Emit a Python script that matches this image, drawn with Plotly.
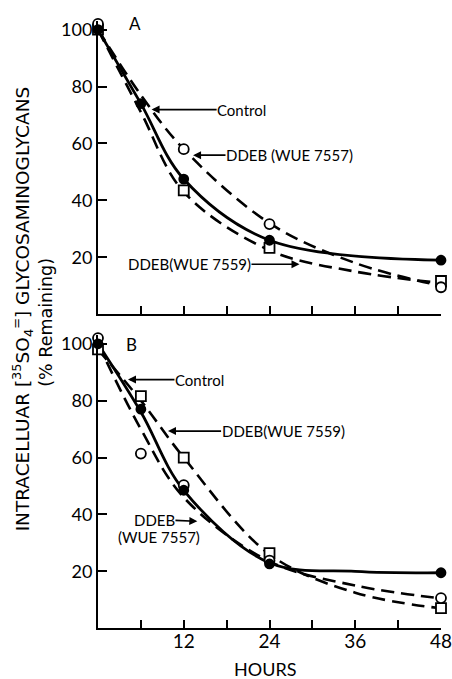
import plotly.graph_objects as go

# ---------------- data ----------------
# Panel A observed points
hours_ctrl_a = [0, 6, 12, 24, 48]
ctrl_a = [100, 74, 47.5, 26, 19]
hours_w7557_a = [0, 12, 24, 48]
w7557_a = [102, 58, 31.7, 9.5]
hours_w7559_a = [0, 12, 24, 48]
w7559_a = [100, 43.5, 23.3, 11.7]

# Panel A fitted curves
curve_hours_ctrl_a = [0, 6, 12, 24, 48]
curve_ctrl_a = [100, 74, 47.5, 26, 19]
curve_hours_w7557_a = [0, 6, 12, 24, 36, 48]
curve_w7557_a = [100, 77, 58, 32, 18, 10]
curve_hours_w7559_a = [0, 6, 12, 24, 36, 48]
curve_w7559_a = [100, 71, 43, 22.5, 15, 11]

# Panel B observed points
hours_b = [0, 6, 12, 24, 48]
ctrl_b = [100, 77, 48.5, 22.6, 19.5]
w7557_b = [102, 61.4, 50.3, 23.8, 10.6]
w7559_b = [98, 81.6, 60, 26.4, 7.1]

# Panel B fitted curves
curve_hours_ctrl_b = [0, 6, 12, 24, 36, 48]
curve_ctrl_b = [100, 76, 48.5, 23, 20, 19.5]
curve_hours_w7557_b = [0, 6, 12, 24, 36, 48]
curve_w7557_b = [100, 70, 46, 23.5, 15, 10.5]
curve_hours_w7559_b = [0, 6, 12, 24, 36, 48]
curve_w7559_b = [98, 80, 60, 26, 12.5, 7]

x_tickvals = [6, 12, 18, 24, 30, 36, 42, 48]
x_ticktext = ["", "12", "", "24", "", "36", "", "48"]
y_tickvals = [20, 40, 60, 80, 100]

FONT = "Lato"
TITLE_FONT = "DejaVu Sans"
BLACK = "black"

fig = go.Figure()


def curve(x, y, dashed, xa, ya):
    fig.add_trace(go.Scatter(
        x=x, y=y, mode="lines", line_shape="spline",
        line=dict(color=BLACK, width=2.8 if not dashed else 2.6,
                  dash="13px,7px" if dashed else "solid"),
        xaxis=xa, yaxis=ya, showlegend=False, hoverinfo="skip", cliponaxis=False))


def pts(x, y, symbol, filled, xa, ya, size=9):
    fig.add_trace(go.Scatter(
        x=x, y=y, mode="markers",
        marker=dict(symbol=symbol, size=size, color=BLACK if filled else "white",
                    line=dict(color=BLACK, width=1.8)),
        xaxis=xa, yaxis=ya, showlegend=False, cliponaxis=False))


# Panel A
curve(curve_hours_ctrl_a, curve_ctrl_a, False, "x", "y")
curve(curve_hours_w7557_a, curve_w7557_a, True, "x", "y")
curve(curve_hours_w7559_a, curve_w7559_a, True, "x", "y")
pts(hours_w7559_a, w7559_a, "square", False, "x", "y", 10)
pts(hours_w7557_a, w7557_a, "circle", False, "x", "y", 10)
pts(hours_ctrl_a, ctrl_a, "circle", True, "x", "y", 9)

# Panel B
curve(curve_hours_ctrl_b, curve_ctrl_b, False, "x2", "y2")
curve(curve_hours_w7557_b, curve_w7557_b, True, "x2", "y2")
curve(curve_hours_w7559_b, curve_w7559_b, True, "x2", "y2")
pts(hours_b, w7559_b, "square", False, "x2", "y2", 10)
pts(hours_b, w7557_b, "circle", False, "x2", "y2", 10)
pts(hours_b, ctrl_b, "circle", True, "x2", "y2", 9)

axis_common = dict(showline=True, linecolor=BLACK, linewidth=2, showgrid=False,
                   zeroline=False, ticks="inside", tickcolor=BLACK, tickwidth=2)

fig.update_layout(
    width=452, height=679,
    margin=dict(l=98, r=10, t=0, b=0),
    paper_bgcolor="white", plot_bgcolor="white",
    font=dict(family=FONT, color=BLACK),
    xaxis=dict(**axis_common, domain=[0, 1], range=[0, 48], anchor="y",
               tickvals=x_tickvals, showticklabels=False, ticklen=8),
    yaxis=dict(**axis_common, domain=[0.5395, 0.9733], range=[0, 103], anchor="x",
               tickvals=y_tickvals, ticklen=9, tickfont=dict(size=18, family=FONT)),
    xaxis2=dict(**axis_common, domain=[0, 1], range=[0, 48], anchor="y2",
                tickvals=x_tickvals, ticktext=x_ticktext, ticklen=8,
                ticklabeloverflow="allow", ticklabelstandoff=-5,
                tickfont=dict(size=19, family=FONT)),
    yaxis2=dict(**axis_common, domain=[0.0751, 0.5085], range=[0, 103], anchor="x2",
                tickvals=y_tickvals, ticklen=9, tickfont=dict(size=18, family=FONT)),
)

ann_font = dict(size=15, family=FONT, color=BLACK)


def label(text, xa, ya, tx, ty, hx=None, hy=None, size=15):
    f = dict(ann_font, size=size)
    if hx is None:
        fig.add_annotation(text=text, xref=xa, yref=ya, x=tx, y=ty, showarrow=False,
                           xanchor="center", yanchor="middle", font=f)
    else:
        fig.add_annotation(text=text, xref=xa, yref=ya, x=hx, y=hy,
                           axref=xa, ayref=ya, ax=tx, ay=ty, showarrow=True,
                           arrowhead=2, arrowsize=1, arrowwidth=1.6, arrowcolor=BLACK,
                           font=f, borderpad=0)


label("A", "x", "y", 5.2, 102.1, size=17)
label("Control", "x", "y", 20.1, 71.9, 7.5, 71.9)
label("DDEB (WUE 7557)", "x", "y", 26.8, 55.9, 13.3, 55.9)
label("DDEB(WUE 7559)", "x", "y", 12.8, 17.6, 28.2, 17.6)

label("B", "x2", "y2", 4.7, 99.6, size=17)
label("Control", "x2", "y2", 14.2, 87.4, 4.2, 87.4)
label("DDEB(WUE 7559)", "x2", "y2", 25.9, 69.3, 9.8, 69.3)
label("DDEB", "x2", "y2", 7.9, 38.2, 13.9, 37.6)
label("(WUE 7557)", "x2", "y2", 8.5, 32.0)

fig.add_annotation(text="HOURS", xref="paper", yref="paper", x=(265 - 98) / 344, y=-0.005,
                   xanchor="center", yanchor="bottom",
                   showarrow=False, font=dict(size=18, family=FONT, color=BLACK))

fig.add_annotation(
    text="INTRACELLUAR [<sup>35</sup>SO<sub>4</sub><sup>=</sup>] GLYCOSAMINOGLYCANS",
    xref="paper", yref="paper", x=(22.5 - 98) / 344, y=1 - 307 / 679,
    xanchor="center", yanchor="middle",
    textangle=-90, showarrow=False,
    font=dict(size=18.5, family=TITLE_FONT, color=BLACK))
fig.add_annotation(
    text="(% Remaining)",
    xref="paper", yref="paper", x=(45 - 98) / 344, y=1 - 321 / 679,
    xanchor="center", yanchor="middle",
    textangle=-90, showarrow=False,
    font=dict(size=17.5, family=TITLE_FONT, color=BLACK))

fig.write_html("out.html")
